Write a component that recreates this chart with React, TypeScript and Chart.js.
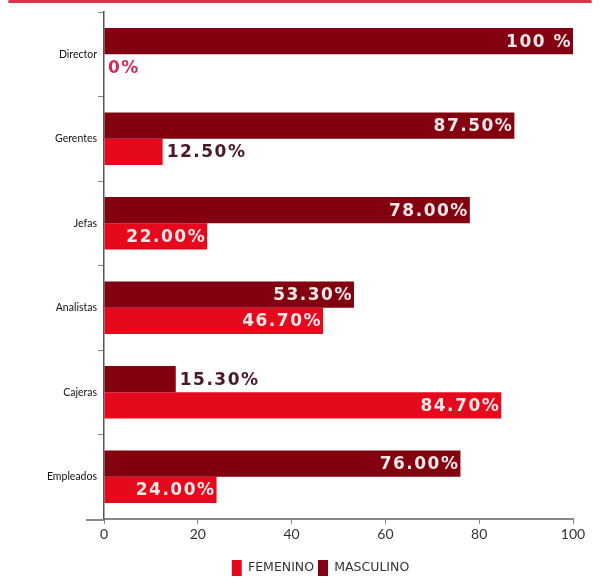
import React, { useEffect, useRef } from "react";
import { Chart, registerables } from "chart.js";

Chart.register(...registerables);

const categories = ["Director", "Gerentes", "Jefas", "Analistas", "Cajeras", "Empleados"];
const masculino = [100, 87.5, 78, 53.3, 15.3, 76];
const femenino = [0, 12.5, 22, 46.7, 84.7, 24];
const masculinoLabels = ["100 %", "87.50%", "78.00%", "53.30%", "15.30%", "76.00%"];
const femeninoLabels = ["0%", "12.50%", "22.00%", "46.70%", "84.70%", "24.00%"];
const xTicks = [0, 20, 40, 60, 80, 100];

const MASC = "#82000f";
const FEM = "#e6081c";

const valueLabels = {
  id: "valueLabels",
  afterDatasetsDraw(chart: any) {
    const ctx = chart.ctx;
    const sets = [masculinoLabels, femeninoLabels];
    chart.data.datasets.forEach((ds: any, di: number) => {
      const meta = chart.getDatasetMeta(di);
      meta.data.forEach((bar: any, i: number) => {
        const v = ds.data[i];
        const text = sets[di][i];
        ctx.save();
        ctx.font = 'bold 17px "DejaVu Sans"';
        try { (ctx as any).letterSpacing = "1.5px"; } catch (e) {}
        ctx.textBaseline = "middle";
        const y = bar.y + 1;
        if (v > 20) {
          ctx.textAlign = "right";
          ctx.fillStyle = "#f6e8e6";
          ctx.fillText(text, bar.x - 1, y);
        } else {
          ctx.textAlign = "left";
          ctx.fillStyle = v === 0 ? "#d42c58" : "#4a1826";
          ctx.fillText(text, bar.x + 4, y);
        }
        ctx.restore();
      });
    });
  },
  afterDraw(chart: any) {
    const ctx = chart.ctx;
    const a = chart.chartArea;
    ctx.save();
    ctx.strokeStyle = "#888";
    ctx.lineWidth = 2;
    ctx.beginPath();
    ctx.moveTo(a.left - 18, a.bottom + 1);
    ctx.lineTo(a.left, a.bottom + 1);
    ctx.stroke();
    ctx.restore();
  },
};

export default function App() {
  const ref = useRef<HTMLCanvasElement>(null);
  useEffect(() => {
    if (!ref.current) return;
    const chart = new Chart(ref.current, {
      type: "bar",
      data: {
        labels: categories,
        datasets: [
          { label: "MASCULINO", data: masculino, backgroundColor: MASC, categoryPercentage: 0.62, barPercentage: 1 },
          { label: "FEMENINO", data: femenino, backgroundColor: FEM, categoryPercentage: 0.62, barPercentage: 1 },
        ],
      },
      options: {
        indexAxis: "y",
        animation: false,
        responsive: true,
        maintainAspectRatio: false,
        layout: { padding: { top: 12, right: 0, bottom: 0, left: 40 } },
        scales: {
          x: {
            min: 0,
            max: 100,
            afterBuildTicks: (scale: any) => {
              scale.ticks = xTicks.map((v) => ({ value: v }));
            },
            afterFit: (scale: any) => { scale.height = 37; },
            grid: { drawOnChartArea: false, tickLength: 5, color: "#888" },
            border: { color: "#888", width: 2 },
            ticks: { color: "#333", font: { family: "Lato", size: 14 }, padding: 2 },
          },
          y: {
            afterFit: (scale: any) => { scale.width = 64; },
            grid: { drawOnChartArea: false, offset: true, tickLength: 6, color: "#888" },
            border: { color: "#555", width: 1.5 },
            ticks: { color: "#111", font: { family: "Lato", size: 10.5 }, padding: 1 },
          },
          yRight: {
            type: "category",
            position: "right",
            afterFit: (scale: any) => { scale.width = 28; },
            grid: { display: false },
            border: { display: false },
            ticks: { display: false },
          },
        },
        plugins: {
          legend: {
            position: "bottom",
            reverse: true,
            labels: {
              boxWidth: 10,
              boxHeight: 16,
              padding: 4,
              color: "#333",
              font: { family: "DejaVu Sans", size: 12.5 },
            },
          },
          tooltip: { enabled: false },
        },
      },
      plugins: [valueLabels],
    } as any);
    return () => chart.destroy();
  }, []);
  return (
    <div style={{ position: "absolute", left: 0, top: 0, width: 601, height: 586, background: "#fff" }}>
      <div style={{ position: "absolute", left: 8, top: 0, width: 584, height: 3, background: "#e0304a", borderRadius: 2 }} />
      <canvas ref={ref} />
    </div>
  );
}
